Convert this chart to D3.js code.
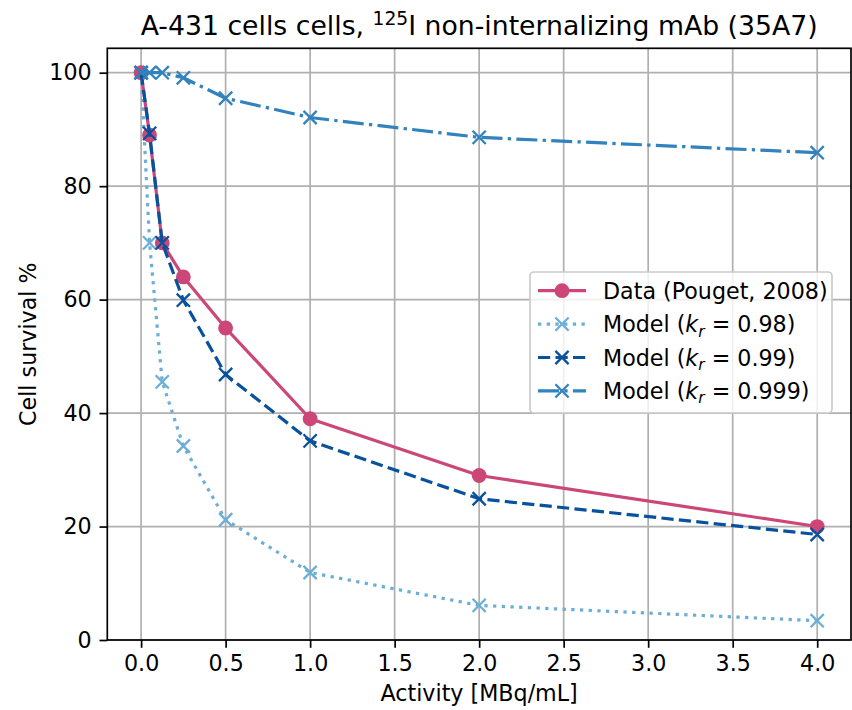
<!DOCTYPE html>
<html><head><meta charset="utf-8">
<script src="https://cdn.jsdelivr.net/npm/d3@7"></script>
<style>body{margin:0;background:#fff} svg{display:block} text{font-family:"DejaVu Sans",sans-serif;fill:#000}</style>
</head><body><svg id="c" width="852" height="710"></svg>
<script>
const activity = [0, 0.05, 0.125, 0.25, 0.5, 1, 2, 4];
const dataSurvival = [100, 89, 70, 64, 55, 39, 29, 20];
const model098 = [100, 70, 45.5, 34.2, 21.2, 11.9, 6.1, 3.4];
const model099 = [100, 89.3, 70, 59.9, 46.8, 35.1, 24.9, 18.6];
const model0999 = [100, 100, 100, 99.1, 95.5, 92.1, 88.6, 85.9];
const xTicks = [0, 0.5, 1, 1.5, 2, 2.5, 3, 3.5, 4];
const yTicks = [0, 20, 40, 60, 80, 100];
const kValues = ["0.98", "0.99", "0.999"];

const FS = 22.2, TFS = 26.7;
const svg = d3.select("#c");
const L = 107.3, R = 851, T = 48.3, B = 640;
const x = d3.scaleLinear().domain([-0.2, 4.2]).range([L, R]);
const y = d3.scaleLinear().domain([0, 104.3]).range([B, T]);

// grid
const g = svg.append("g");
g.selectAll(".gx").data(xTicks).join("line")
  .attr("x1", d => x(d)).attr("x2", d => x(d)).attr("y1", T).attr("y2", B)
  .attr("stroke", "#b0b0b0").attr("stroke-width", 1.7);
g.selectAll(".gy").data(yTicks).join("line")
  .attr("y1", d => y(d)).attr("y2", d => y(d)).attr("x1", L).attr("x2", R)
  .attr("stroke", "#b0b0b0").attr("stroke-width", 1.7);

// axes
const xAxis = d3.axisBottom(x).tickValues(xTicks).tickFormat(d3.format(".1f")).tickSizeInner(7.8).tickSizeOuter(0).tickPadding(7.8);
const yAxis = d3.axisLeft(y).tickValues(yTicks).tickFormat(d3.format("d")).tickSizeInner(7.8).tickSizeOuter(0).tickPadding(7.8);
const gx = svg.append("g").attr("transform", `translate(0,${B})`).call(xAxis);
const gy = svg.append("g").attr("transform", `translate(${L},0)`).call(yAxis);
[gx, gy].forEach(a => {
  a.select(".domain").remove();
  a.selectAll(".tick line").attr("stroke", "#000").attr("stroke-width", 1.7);
  a.selectAll(".tick text").attr("font-size", FS).attr("font-family", "DejaVu Sans").attr("fill", "#000");
});

const series = [
  {name: "m098", vals: model098, color: "#6baed6", dash: "3.3,5.4", marker: "x"},
  {name: "data", vals: dataSurvival, color: "#cc4778", dash: null, marker: "o"},
  {name: "m099", vals: model099, color: "#08519c", dash: "12.2,5.3", marker: "x"},
  {name: "m0999", vals: model0999, color: "#3182bd", dash: "21,5.3,3.3,5.3", marker: "x"}
];
const line = d3.line().x(d => x(d[0])).y(d => y(d[1]));
const plot = svg.append("g");
function crossPath(s){ return `M${-s},${-s}L${s},${s}M${-s},${s}L${s},${-s}`; }

series.forEach(s => {
  const pts = activity.map((a, i) => [a, s.vals[i]]);
  const sg = plot.append("g");
  sg.append("path").attr("d", line(pts)).attr("fill", "none")
    .attr("stroke", s.color).attr("stroke-width", 3.2)
    .attr("stroke-dasharray", s.dash).attr("stroke-linecap", s.dash ? "butt" : "round")
    .attr("stroke-linejoin", "round");
  if (s.marker === "o") {
    sg.selectAll("circle").data(pts).join("circle")
      .attr("cx", d => x(d[0])).attr("cy", d => y(d[1])).attr("r", 7.4).attr("fill", s.color);
  } else {
    sg.selectAll(".mk").data(pts).join("path")
      .attr("transform", d => `translate(${x(d[0])},${y(d[1])})`)
      .attr("d", crossPath(6.6)).attr("stroke", s.color).attr("stroke-width", 2.3).attr("fill", "none");
  }
});

// spines
svg.append("rect").attr("x", L).attr("y", T).attr("width", R - L).attr("height", B - T)
  .attr("fill", "none").attr("stroke", "#000").attr("stroke-width", 1.7);

// title
const title = svg.append("text").attr("x", (L + R) / 2).attr("y", 35).attr("text-anchor", "middle").attr("font-size", TFS);
title.append("tspan").text("A-431 cells cells, ");
title.append("tspan").attr("font-size", TFS * 0.7).attr("dy", -10).text("125");
title.append("tspan").attr("dy", 10).text("I non-internalizing mAb (35A7)");

// axis labels
svg.append("text").attr("x", (L + R) / 2).attr("y", 701).attr("text-anchor", "middle").attr("font-size", FS).text("Activity [MBq/mL]");
svg.append("text").attr("transform", `translate(36,${(T + B) / 2}) rotate(-90)`).attr("text-anchor", "middle").attr("font-size", FS).text("Cell survival %");

// legend
const leg = svg.append("g");
leg.append("rect").attr("x", 530).attr("y", 272).attr("width", 302).attr("height", 141).attr("rx", 4)
  .attr("fill", "#fff").attr("fill-opacity", 0.8).attr("stroke", "#cccccc").attr("stroke-width", 1.7);
const legItems = [series[1], series[0], series[2], series[3]];
const legLabels = ["Data (Pouget, 2008)", kValues[0], kValues[1], kValues[2]];
legItems.forEach((s, i) => {
  const cy = 290.7 + i * 33.4;
  leg.append("line").attr("x1", 538).attr("x2", 586).attr("y1", cy).attr("y2", cy)
    .attr("stroke", s.color).attr("stroke-width", 3.2).attr("stroke-dasharray", s.dash);
  if (s.marker === "o") {
    leg.append("circle").attr("cx", 562).attr("cy", cy).attr("r", 7.4).attr("fill", s.color);
  } else {
    leg.append("path").attr("transform", `translate(562,${cy})`).attr("d", crossPath(6.6))
      .attr("stroke", s.color).attr("stroke-width", 2.3).attr("fill", "none");
  }
  const t = leg.append("text").attr("x", 603).attr("y", cy + 8).attr("font-size", FS);
  if (i === 0) {
    t.text(legLabels[0]);
  } else {
    t.append("tspan").text("Model (");
    t.append("tspan").attr("font-style", "italic").text("k");
    t.append("tspan").attr("font-style", "italic").attr("font-size", FS * 0.7).attr("dy", 4.5).text("r");
    t.append("tspan").attr("dy", -4.5).text(" = " + legLabels[i] + ")");
  }
});
</script></body></html>
